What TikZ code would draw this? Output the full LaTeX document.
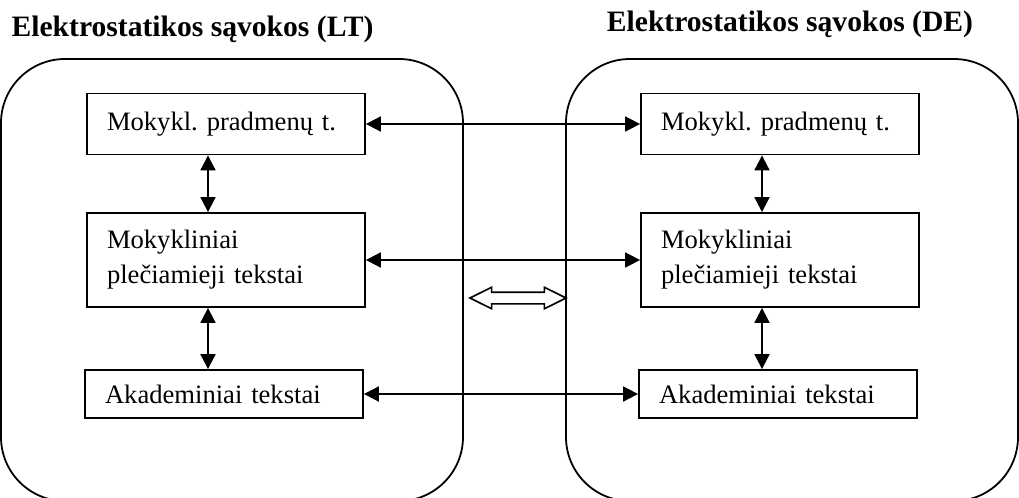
\documentclass[tikz,border=0pt]{standalone}
\usepackage{fontspec}
\setmainfont{Liberation Serif}
\usetikzlibrary{shapes.arrows, arrows.meta}
\tikzstyle{box} = [rectangle, draw, line width=0.9pt, text width=119pt, inner xsep=10pt, align=left, font=\fontsize{13.3}{17.5}\selectfont\frenchspacing]
\tikzstyle{group} = [rectangle, draw, line width=0.9pt, rounded corners=32pt, minimum height=221pt]
\tikzstyle{title} = [anchor=base, font=\fontsize{14.8}{17}\selectfont\bfseries]
\tikzstyle{arrow} = [line width=0.9pt,<->,>={Triangle[length=7.5pt,width=7.5pt]}]
\tikzstyle{swaparrow} = [double arrow, draw, line width=0.8pt, inner sep=2.5pt, minimum width=10pt, minimum height=48pt, double arrow head extend=2.5pt, double arrow tip angle=53]

\begin{document}
\begin{tikzpicture}[x=0.5pt, y=-0.5pt]
  \useasboundingbox (0,0) rectangle (1019,498);

  \node (ltgroup) [group, minimum width=231pt] at (232,280) {};
  \node (degroup) [group, minimum width=226pt] at (792,280) {};

  \node (lttitle) [title] at (192.5,37) {Elektrostatikos sąvokos (LT)};
  \node (detitle) [title] at (790,32) {Elektrostatikos sąvokos (DE)};

  \node (lt1) [box, minimum height=30.5pt] at (226,124) {Mokykl. pradmenų t.};
  \node (lt2) [box, minimum height=47pt, below of=lt1, node distance=68pt] {Mokykliniai\\plečiamieji tekstai};
  \node (lt3) [box, minimum height=24pt, below of=lt2, node distance=67pt, xshift=-1pt] {Akademiniai tekstai};
  \node (de1) [box, minimum height=30.5pt, right of=lt1, node distance=277pt] {Mokykl. pradmenų t.};
  \node (de2) [box, minimum height=47pt, below of=de1, node distance=68pt] {Mokykliniai\\plečiamieji tekstai};
  \node (de3) [box, minimum height=24pt, below of=de2, node distance=67pt, xshift=-1pt] {Akademiniai tekstai};

  \node (swap) [swaparrow] at (518,298) {};

  \draw [arrow] (lt1) -- (de1);
  \draw [arrow] (lt2) -- (de2);
  \draw [arrow] (lt3) -- (de3);

  \draw [arrow] ([xshift=-9pt]lt1.south) -- ([xshift=-9pt]lt2.north);
  \draw [arrow] ([xshift=-9pt]lt2.south) -- ([xshift=-8pt]lt3.north);
  \draw [arrow] ([xshift=-9pt]de1.south) -- ([xshift=-9pt]de2.north);
  \draw [arrow] ([xshift=-9pt]de2.south) -- ([xshift=-8pt]de3.north);
\end{tikzpicture}
\end{document}
